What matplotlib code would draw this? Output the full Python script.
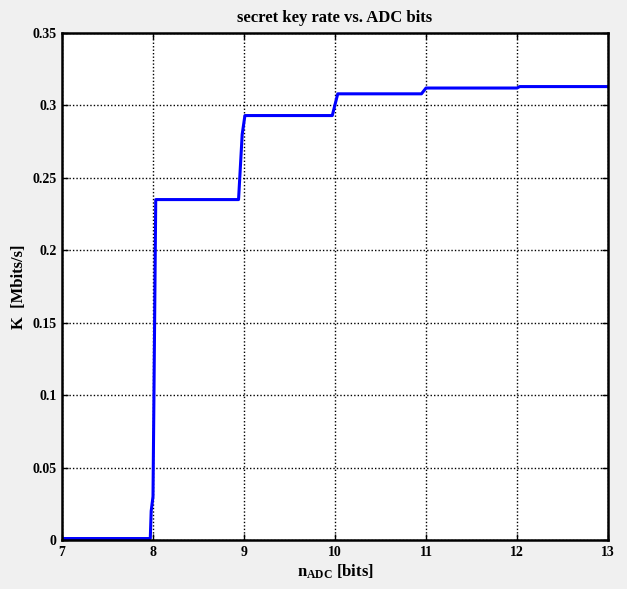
import numpy as np
import matplotlib
matplotlib.use('Agg')
import matplotlib.pyplot as plt

# ── Step curve ───────────────────────────────────────────────────────────────
n_adc = [7.0, 7.97, 7.98, 8.0, 8.03, 8.94, 8.98, 9.01, 9.97, 10.03, 10.95, 11.0, 12.0, 12.03, 13.0]
K_rate = [0.001, 0.001, 0.02, 0.03, 0.235, 0.235, 0.28, 0.293, 0.293, 0.308, 0.308, 0.312, 0.312, 0.313, 0.313]

xticks = [7, 8, 9, 10, 11, 12, 13]
yticks = [0, 0.05, 0.1, 0.15, 0.2, 0.25, 0.3, 0.35]
ytick_labels = ['0', '0.05', '0.1', '0.15', '0.2', '0.25', '0.3', '0.35']

plt.rcParams['font.family'] = ['Liberation Serif', 'DejaVu Serif']
plt.rcParams['font.weight'] = 'bold'
plt.rcParams['mathtext.fontset'] = 'custom'
plt.rcParams['mathtext.rm'] = 'Liberation Serif:bold'
plt.rcParams['mathtext.bf'] = 'Liberation Serif:bold'
plt.rcParams['mathtext.it'] = 'Liberation Serif:bold'

fig = plt.figure(figsize=(6.27, 5.89), dpi=100, facecolor='#f0f0f0')
ax = fig.add_axes([0.0989, 0.0832, 0.8708, 0.8608])

ax.plot(n_adc, K_rate, color='#0000ff', lw=2.2)

ax.set_xlim(7, 13)
ax.set_ylim(0, 0.35)
ax.set_xticks(xticks)
ax.set_yticks(yticks)
ax.set_yticklabels(ytick_labels)
ax.grid(True, color='black', ls=(0, (1, 1.5)), lw=1.0)
ax.tick_params(direction='in', top=True, right=True, length=4, width=1,
               labelsize=10, pad=4)
for s in ax.spines.values():
    s.set_linewidth(1.8)

ax.set_title('secret key rate vs. ADC bits', fontsize=12, fontweight='bold', pad=8)
ax.set_xlabel(r'$\mathregular{n_{ADC}}$ [bits]', fontsize=12, fontweight='bold', labelpad=3)
ax.set_ylabel('K  [Mbits/s]', fontsize=12, fontweight='bold', labelpad=4)

fig.savefig('out.png', dpi=100, facecolor=fig.get_facecolor())
